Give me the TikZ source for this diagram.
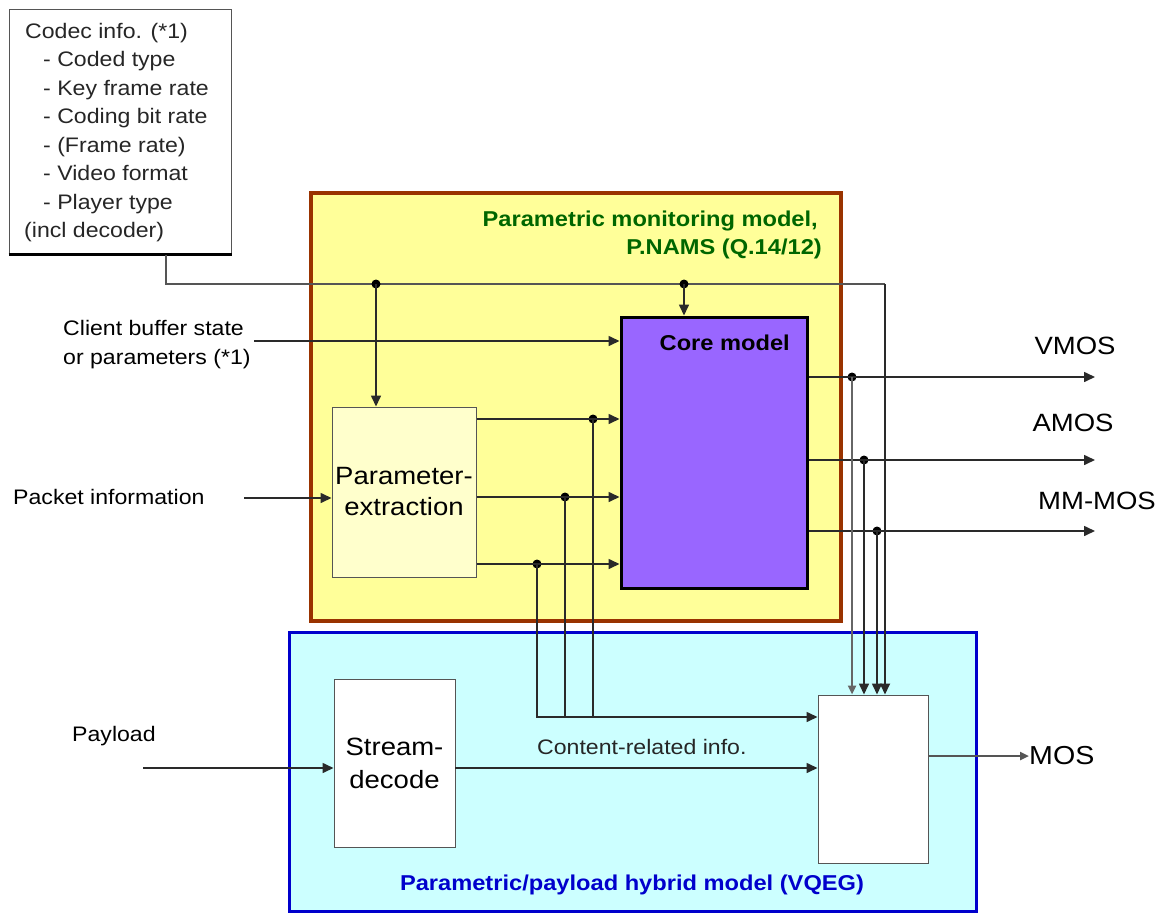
\documentclass[tikz,border=0pt]{standalone}
\usepackage{fontspec}
\setmainfont[FakeStretch=1.1]{Liberation Sans}
\usetikzlibrary{arrows.meta}
\definecolor{yel}{HTML}{FFFF99}
\definecolor{yelb}{HTML}{993300}
\definecolor{pur}{HTML}{9966FF}
\definecolor{pale}{HTML}{FFFFCC}
\definecolor{cyanf}{HTML}{CCFFFF}
\definecolor{blueb}{HTML}{0000CC}
\definecolor{grn}{HTML}{006600}
\definecolor{linec}{HTML}{2A2A2A}
\definecolor{boxe}{HTML}{555555}
\begin{document}
\begin{tikzpicture}[x=1pt,y=-1pt,
  conn/.style={draw=linec, line width=1.6pt},
  tip/.style={-{Triangle[length=11pt,width=10pt]}},
  arr/.style={conn, tip},
  heavy/.style={line width=2.6pt, draw=boxe},
  dot/.style={circle, fill=black, inner sep=0pt, minimum size=9pt},
  txt/.style={font=\fontsize{21}{25}\selectfont, inner sep=0pt},
  btxt/.style={font=\fontsize{21.5}{26}\selectfont\bfseries, inner sep=0pt},
  big/.style={font=\fontsize{25}{31}\selectfont, inner sep=0pt, align=center},
  outl/.style={font=\fontsize{25}{30}\selectfont, inner sep=0pt},
  plainbox/.style={draw=boxe, line width=1pt, inner sep=0pt, align=center}
]
\useasboundingbox (0,0) rectangle (1168,913);

% container boxes
\node[draw=yelb, fill=yel, line width=3.5pt, minimum width=530pt, minimum height=428pt, inner sep=0pt] (pnams) at (576,407) {};
\node[draw=blueb, fill=cyanf, line width=3pt, minimum width=687pt, minimum height=279pt, inner sep=0pt] (vqeg) at (632.5,771.5) {};

% codec box
\node[plainbox, fill=white, minimum width=222pt, minimum height=245pt] (codec) at (120,131.5) {};
\draw[line width=2.2pt, black] (codec.south west) -- (codec.south east);
\foreach \n/\x/\t [count=\i from 0] in {ca/25/{Codec info. (*1)}, cb/43/{- Coded type}, cc/43/{- Key frame rate}, cd/43/{- Coding bit rate}, ce/43/{- (Frame rate)}, cf/43/{- Video format}, cg/43/{- Player type}, ch/24/{(incl decoder)}}
  \node[txt, anchor=base west, text=black!85] (\n) at (\x,38+28.57*\i) {\t};

% titles
\node[btxt, text=grn, anchor=base east] (g1) at (818,226) {Parametric monitoring model,};
\node[btxt, text=grn, anchor=base east] (g2) at (822,254) {P.NAMS (Q.14/12)};
\node[btxt, text=blueb] (vt) at (632,885) {Parametric/payload hybrid model (VQEG)};

% inner blocks
\node[draw=black, fill=pur, line width=3pt, minimum width=186pt, minimum height=271pt, inner sep=0pt] (core) at (714,452.5) {};
\node[btxt, anchor=base east] (coret) at (790,350) {Core model};
\node[plainbox, fill=pale, minimum width=144pt, minimum height=170pt, big] (pe) at (404,492) {Parameter-\\extraction};
\node[plainbox, fill=white, minimum width=121pt, minimum height=168pt, font=\fontsize{25}{33}\selectfont] (sd) at (394.5,763) {Stream-\\decode};
\node[plainbox, fill=white, minimum width=110pt, minimum height=168pt] (fin) at (873,779) {};

% outside labels
\node[txt, anchor=base west] (cl1) at (63,335) {Client buffer state};
\node[txt, anchor=base west] (cl2) at (63,364) {or parameters (*1)};
\node[txt, anchor=base west] (pk) at (13,504) {Packet information};
\node[txt, anchor=base west] (pl) at (72,741) {Payload};
\node[txt, anchor=base west, text=black!85] (cr) at (537,754) {Content-related info.};
\node[outl] (vmos) at (1075,346) {VMOS};
\node[outl] (amos) at (1073,423) {AMOS};
\node[outl] (mmmos) at (1097,501) {MM-MOS};
\node[outl, font=\fontsize{26}{30}\selectfont, anchor=west] (mos) at (1029,756) {MOS};

% coordinates
\coordinate (cdx) at (166,284);
\coordinate (cdr) at (885,284);
\coordinate (clst) at (254,341);
\coordinate (pkst) at (244,498);
\coordinate (plst) at (143,768);
\coordinate (hl) at (536,717);
\coordinate (ctl) at (455,768);
\coordinate (o1) at (1095,377);
\coordinate (o2) at (1095,460);
\coordinate (o3) at (1095,531);
\coordinate (mosy) at (928,756);

% codec connector
\draw[heavy] (codec.south -| cdx) -- (cdx) -- (cdr);
\draw[conn, tip, line width=1.8pt] (cdr) -- (cdr |- fin.north);
\node[dot] (j1) at (376,284) {};
\node[dot] (j2) at (684,284) {};
\draw[arr] (j1.center) -- (j1.center |- pe.north);
\draw[arr] (j2.center) -- (j2.center |- core.north);

% inputs
\draw[arr] (clst) -- (clst -| core.west);
\draw[arr] (pkst) -- (pkst -| pe.west);
\draw[arr] (plst) -- (plst -| sd.west);
\draw[arr] (ctl) -- (ctl -| fin.west);

% PE outputs
\node[dot] (d1) at (593,419) {};
\node[dot] (d2) at (565,497) {};
\node[dot] (d3) at (537,564) {};
\draw[arr] (d1 -| pe.east) -- (d1 -| core.west);
\draw[arr] (d2 -| pe.east) -- (d2 -| core.west);
\draw[arr] (d3 -| pe.east) -- (d3 -| core.west);
\draw[conn] (d1.center) -- (d1.center |- hl);
\draw[conn] (d2.center) -- (d2.center |- hl);
\draw[arr] (d3.center) -- (d3.center |- hl) -- (hl -| fin.west);

% core outputs
\node[dot] (e1) at (852,377) {};
\node[dot] (e2) at (864,460) {};
\node[dot] (e3) at (877,531) {};
\draw[arr] (o1 -| core.east) -- (o1);
\draw[arr] (o2 -| core.east) -- (o2);
\draw[arr] (o3 -| core.east) -- (o3);
\draw[arr, draw=black!60, line width=2.4pt, -{Triangle[length=9pt,width=8pt]}] (e1.center) -- (e1.center |- fin.north);
\draw[arr] (e2.center) -- (e2.center |- fin.north);
\draw[arr] (e3.center) -- (e3.center |- fin.north);

% MOS
\draw[arr, line width=2.4pt, draw=boxe, -{Triangle[length=9pt,width=8pt]}] (mosy -| fin.east) -- (mos.west);
\end{tikzpicture}
\end{document}
